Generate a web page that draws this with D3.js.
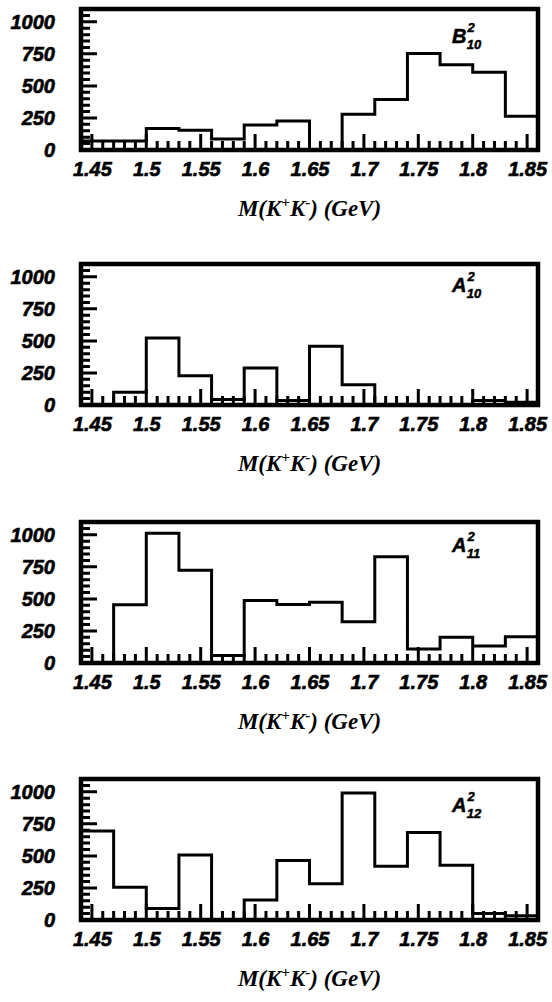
<!DOCTYPE html>
<html lang="en">
<head>
    <meta charset="UTF-8">
    <title>M(K+K-) partial waves</title>
    <script src="https://cdnjs.cloudflare.com/ajax/libs/d3/7.8.5/d3.min.js"></script>
    <style>
        body { margin: 0; background: #fff; color: #000; }
        svg { display: block; }
        .tick-label { font-family: 'Liberation Sans', Arial, sans-serif; font-weight: bold; font-style: italic; font-size: 20px; fill: #000; stroke: #000; stroke-width: 0.6px; }
        .axis-title { font-family: 'Liberation Serif', 'Times New Roman', serif; font-weight: bold; font-style: italic; font-size: 23px; fill: #000; }
        .wave-label { font-family: 'Liberation Sans', Arial, sans-serif; font-weight: bold; font-style: italic; fill: #000; stroke: #000; stroke-width: 0.5px; }
    </style>
</head>
<body>
    <div id="chart"></div>

    <script>
        // bin edges in GeV (0.03 GeV bins)
        const binEdges = [1.44, 1.47, 1.50, 1.53, 1.56, 1.59, 1.62, 1.65, 1.68, 1.71, 1.74, 1.77, 1.80, 1.83, 1.86];

        // events per bin
        const waveB10 = [70, 70, 167, 155, 85, 195, 227, 0, 278, 394, 753, 665, 606, 263];
        const waveA10 = [0, 100, 522, 229, 42, 289, 35, 458, 158, 0, 0, 0, 35, 22];
        const waveA11 = [0, 454, 1013, 723, 59, 487, 456, 474, 321, 828, 110, 200, 133, 205];
        const waveA12 = [695, 255, 89, 508, 0, 157, 465, 282, 990, 420, 682, 427, 51, 33];

        const waveNames = [
            { base: "B", sup: "2", sub: "10" },
            { base: "A", sup: "2", sub: "10" },
            { base: "A", sup: "2", sub: "11" },
            { base: "A", sup: "2", sub: "12" }
        ];
        const waves = [waveB10, waveA10, waveA11, waveA12];

        const xMajorTicks = [1.45, 1.5, 1.55, 1.6, 1.65, 1.7, 1.75, 1.8, 1.85];
        const xMinorTicks = [1.46, 1.47, 1.48, 1.49, 1.51, 1.52, 1.53, 1.54, 1.56, 1.57, 1.58, 1.59,
                             1.61, 1.62, 1.63, 1.64, 1.66, 1.67, 1.68, 1.69, 1.71, 1.72, 1.73, 1.74,
                             1.76, 1.77, 1.78, 1.79, 1.81, 1.82, 1.83, 1.84];
        const yMajorTicks = [0, 250, 500, 750, 1000];
        const yMinorTicks = [50, 100, 150, 200, 300, 350, 400, 450, 550, 600, 650, 700, 800, 850, 900, 950, 1050];

        // layout
        const W = 552, H = 1002;
        const left = 81, right = 538;
        const plotH = 141;
        const panelBottoms = [150, 405, 663, 920];
        const labelDrop = [34, 28, 30, 33];

        const svg = d3.select("#chart")
            .append("svg")
            .attr("width", W)
            .attr("height", H);

        svg.append("rect").attr("width", W).attr("height", H).attr("fill", "#fff");

        const x = d3.scaleLinear()
            .domain([binEdges[0], binEdges[binEdges.length - 1]])
            .range([0, right - left]);

        const y = d3.scaleLinear()
            .domain([0, 1100])
            .range([plotH, 0]);

        function styleLabels(a) {
            a.select(".domain").remove();
            a.selectAll("line").remove();
            a.selectAll("text")
                .attr("class", "tick-label")
                .attr("fill", "#000")
                .attr("font-size", null)
                .attr("font-family", null);
        }

        waves.forEach((counts, i) => {
            const g = svg.append("g")
                .attr("transform", `translate(${left},${panelBottoms[i] - plotH})`);

            // frame
            g.append("rect")
                .attr("x", 0)
                .attr("y", 0)
                .attr("width", right - left)
                .attr("height", plotH)
                .attr("fill", "none")
                .attr("stroke", "#000")
                .attr("stroke-width", 4.5);

            // histogram outline
            const pts = counts.map((c, k) => [binEdges[k], c]);
            pts.push([binEdges[binEdges.length - 1], counts[counts.length - 1]]);
            const stepLine = d3.line()
                .x(p => x(p[0]))
                .y(p => y(p[1]))
                .curve(d3.curveStepAfter);

            g.append("path")
                .attr("d", stepLine(pts))
                .attr("fill", "none")
                .attr("stroke", "#000")
                .attr("stroke-width", 3);

            // tick marks: x ticks rise from the bottom, y ticks run right from the left
            const tickPath = d3.path();
            xMinorTicks.forEach(v => { tickPath.moveTo(x(v), plotH); tickPath.lineTo(x(v), plotH - 9); });
            xMajorTicks.forEach(v => { tickPath.moveTo(x(v), plotH); tickPath.lineTo(x(v), plotH - 16); });
            yMinorTicks.forEach(v => { tickPath.moveTo(0, y(v)); tickPath.lineTo(9, y(v)); });
            yMajorTicks.forEach(v => { tickPath.moveTo(0, y(v)); tickPath.lineTo(16, y(v)); });
            g.append("path")
                .attr("d", tickPath.toString())
                .attr("fill", "none")
                .attr("stroke", "#000")
                .attr("stroke-width", 3);

            // tick labels
            g.append("g")
                .attr("transform", `translate(0,${plotH})`)
                .call(d3.axisBottom(x).tickValues(xMajorTicks).tickSize(0).tickPadding(12).tickFormat(d3.format("")))
                .call(styleLabels);

            g.append("g")
                .call(d3.axisLeft(y).tickValues(yMajorTicks).tickSize(0).tickPadding(26).tickFormat(d3.format("d")))
                .call(styleLabels);

            // wave label
            const nm = waveNames[i];
            const lab = g.append("text")
                .attr("class", "wave-label")
                .attr("x", 371)
                .attr("y", labelDrop[i]);
            lab.append("tspan").attr("font-size", 20).text(nm.base);
            lab.append("tspan").attr("font-size", 13).attr("dx", 1).attr("dy", -11).text(nm.sup);
            lab.append("tspan").attr("font-size", 13).attr("dx", -8).attr("dy", 17).text(nm.sub);

            // axis title
            const t = svg.append("text")
                .attr("class", "axis-title")
                .attr("x", (left + right) / 2)
                .attr("y", panelBottoms[i] + 66)
                .attr("text-anchor", "middle");
            t.append("tspan").text("M(K");
            t.append("tspan").attr("font-size", 15).attr("dy", -9).text("+");
            t.append("tspan").attr("dy", 9).text("K");
            t.append("tspan").attr("font-size", 15).attr("dy", -9).text("-");
            t.append("tspan").attr("dy", 9).text(") (GeV)");
        });
    </script>
</body>
</html>
